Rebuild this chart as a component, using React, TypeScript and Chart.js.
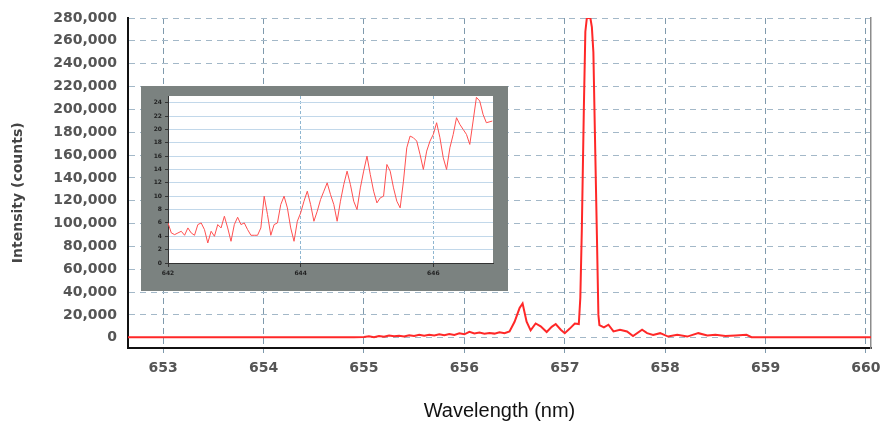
import React, { useEffect, useRef } from "react";
import { Chart, registerables } from "chart.js";

Chart.register(...registerables);

// ---------- Main spectrum ----------
const MAIN_WAVELENGTHS = [
  652.65, 652.8, 653.0, 653.5, 654.0, 654.5, 654.9, 655.0, 655.05, 655.1,
  655.15, 655.2, 655.25, 655.3, 655.35, 655.4, 655.45, 655.5, 655.55, 655.6,
  655.65, 655.7, 655.75, 655.8, 655.85, 655.9, 655.95, 656.0, 656.05, 656.1,
  656.15, 656.2, 656.25, 656.3, 656.35, 656.4, 656.45, 656.5, 656.55, 656.58,
  656.62, 656.66, 656.71, 656.76, 656.82, 656.87, 656.91, 656.96, 657.0, 657.05,
  657.1, 657.14, 657.155, 657.17, 657.19, 657.205, 657.22, 657.255, 657.27, 657.285,
  657.3, 657.32, 657.335, 657.345, 657.39, 657.435, 657.485, 657.55, 657.62, 657.68,
  657.77, 657.82, 657.88, 657.95, 658.03, 658.12, 658.22, 658.33, 658.42, 658.5,
  658.6, 658.7, 658.81, 658.86, 659.0, 659.5, 660.0, 660.05,
];
const MAIN_COUNTS = [
  500, 500, 500, 500, 500, 500, 500, 600, 1200, 500,
  1500, 800, 2000, 1200, 1800, 1000, 2200, 1500, 2500, 1800,
  2600, 2000, 3000, 2200, 3200, 2500, 3800, 3000, 5200, 3800,
  4500, 3500, 4200, 3600, 4800, 4000, 5500, 14000, 26000, 30000,
  14000, 6500, 12500, 10000, 5000, 9500, 12000, 7000, 4000, 8000,
  12500, 12000, 35000, 95000, 200000, 268000, 280000, 280000, 272000, 250000,
  180000, 90000, 20000, 11000, 9000, 11400, 5500, 7000, 5500, 1500,
  7000, 4000, 2500, 4000, 1000, 2500, 1000, 4000, 2000, 2500,
  1500, 2000, 2500, 500, 500, 500, 500, 500,
];
const MAIN_X_TICKS = [653, 654, 655, 656, 657, 658, 659, 660];
const MAIN_Y_TICKS = [
  0, 20000, 40000, 60000, 80000, 100000, 120000, 140000,
  160000, 180000, 200000, 220000, 240000, 260000, 280000,
];

// ---------- Inset spectrum ----------
const INSET_WAVELENGTHS = [
  642.0, 642.05, 642.1, 642.15, 642.2, 642.25, 642.3, 642.35, 642.4, 642.45,
  642.5, 642.55, 642.6, 642.65, 642.7, 642.75, 642.8, 642.85, 642.9, 642.95,
  643.0, 643.05, 643.1, 643.15, 643.2, 643.25, 643.3, 643.35, 643.4, 643.45,
  643.5, 643.55, 643.6, 643.65, 643.7, 643.75, 643.8, 643.85, 643.9, 643.95,
  644.0, 644.05, 644.1, 644.15, 644.2, 644.25, 644.3, 644.35, 644.4, 644.45,
  644.5, 644.55, 644.6, 644.65, 644.7, 644.75, 644.8, 644.85, 644.9, 644.95,
  645.0, 645.05, 645.1, 645.15, 645.2, 645.25, 645.3, 645.35, 645.4, 645.45,
  645.5, 645.55, 645.6, 645.65, 645.7, 645.75, 645.8, 645.85, 645.9, 645.95,
  646.0, 646.05, 646.1, 646.15, 646.2, 646.25, 646.3, 646.35, 646.4, 646.45,
  646.5, 646.55, 646.6, 646.65, 646.7, 646.75, 646.8, 646.89,
];
const INSET_VALUES = [
  6.0, 4.5, 4.25, 4.5, 4.75, 4.15, 5.25, 4.5, 4.15, 5.75,
  6.0, 5.0, 3.0, 4.75, 4.0, 5.75, 5.25, 7.0, 5.25, 3.25,
  5.75, 6.85, 5.75, 6.0, 5.0, 4.15, 4.15, 4.15, 5.25, 10.0,
  7.25, 4.15, 5.75, 6.0, 8.75, 10.0, 8.25, 5.25, 3.25, 6.25,
  7.5, 9.25, 10.75, 8.75, 6.25, 7.75, 9.5, 10.75, 12.0, 10.25,
  8.75, 6.25, 9.25, 11.75, 13.75, 11.75, 9.25, 8.0, 11.25, 13.75,
  16.0, 13.25, 10.75, 9.0, 9.75, 10.0, 14.75, 13.75, 11.25, 9.25,
  8.25, 12.25, 17.25, 19.0, 18.75, 18.25, 16.25, 14.0, 16.75, 18.25,
  19.25, 21.0, 18.75, 15.75, 14.0, 17.25, 19.25, 21.75, 20.75, 20.0,
  19.25, 17.75, 21.25, 24.8, 24.25, 22.25, 21.0, 21.25,
];
const INSET_X_TICKS = [642, 644, 646];
const INSET_Y_TICKS = [0, 2, 4, 6, 8, 10, 12, 14, 16, 18, 20, 22, 24];

const insetBackground = {
  id: "insetBackground",
  beforeDraw(chart: any) {
    const { ctx, chartArea, width, height } = chart;
    ctx.save();
    ctx.fillStyle = "#7b8280";
    ctx.fillRect(0, 0, width, height);
    ctx.fillStyle = "#ffffff";
    ctx.fillRect(chartArea.left, chartArea.top, chartArea.right - chartArea.left, chartArea.bottom - chartArea.top);
    ctx.restore();
  },
};

export default function App() {
  const mainRef = useRef<HTMLCanvasElement | null>(null);
  const insetRef = useRef<HTMLCanvasElement | null>(null);

  useEffect(() => {
    const tickFont = { family: "DejaVu Sans", size: 14, weight: "bold" as const };
    const main = new Chart(mainRef.current as HTMLCanvasElement, {
      type: "line",
      data: {
        datasets: [
          {
            data: MAIN_WAVELENGTHS.map((x, i) => ({ x, y: MAIN_COUNTS[i] })),
            borderColor: "rgb(255,40,40)",
            borderWidth: 2,
            pointRadius: 0,
            tension: 0,
          },
        ],
      },
      options: {
        animation: false,
        responsive: false,
        devicePixelRatio: 1,
        layout: { padding: { left: 0, right: 9, top: 18, bottom: 0 } },
        plugins: { legend: { display: false }, tooltip: { enabled: false } },
        scales: {
          x: {
            type: "linear",
            min: 652.65,
            max: 660.05,
            afterBuildTicks: (s: any) => {
              s.ticks = MAIN_X_TICKS.map((v) => ({ value: v }));
            },
            afterFit: (s: any) => {
              s.height = 73;
              s.paddingLeft = 0;
              s.paddingRight = 0;
            },
            grid: { color: "#7f9aad", lineWidth: 1, drawTicks: true, tickLength: 5, tickColor: "#7f9aad" },
            border: { display: true, color: "#111111", width: 2, dash: [6, 4] },
            ticks: {
              color: "#555555",
              font: tickFont,
              padding: 7,
              autoSkip: false,
              maxRotation: 0,
              callback: (v: any) => String(v),
            },
            title: {
              display: true,
              text: "Wavelength (nm)",
              color: "#111111",
              font: { family: "Liberation Sans", size: 20, lineHeight: 1 },
              padding: 0,
            },
          },
          y: {
            min: -9000,
            max: 280000,
            afterBuildTicks: (s: any) => {
              s.ticks = MAIN_Y_TICKS.map((v) => ({ value: v }));
            },
            afterFit: (s: any) => {
              s.width = 128;
              s.paddingTop = 0;
              s.paddingBottom = 0;
            },
            grid: { color: "#a3b8c8", lineWidth: 1, drawTicks: false },
            border: { display: true, color: "#111111", width: 2, dash: [6, 5] },
            ticks: {
              color: "#555555",
              font: tickFont,
              padding: 11,
              autoSkip: false,
              callback: (v: any) => Number(v).toLocaleString("en-US"),
            },
            title: {
              display: true,
              text: "Intensity (counts)\u00a0\u00a0\u00a0\u00a0",
              color: "#444444",
              font: { family: "DejaVu Sans", size: 14, weight: "bold", lineHeight: 1.2 },
              padding: { top: 10, bottom: 0 },
            },
          },
          y2: {
            position: "right",
            min: -9000,
            max: 280000,
            afterFit: (s: any) => {
              s.width = 0;
            },
            grid: { drawOnChartArea: false, drawTicks: false },
            ticks: { display: false },
            border: { display: true, color: "#8c8c8c", width: 1.5 },
          },
        },
      } as any,
    });

    const insetFont = { family: "DejaVu Sans", size: 6, weight: "bold" as const };
    const inset = new Chart(insetRef.current as HTMLCanvasElement, {
      type: "line",
      data: {
        datasets: [
          {
            data: INSET_WAVELENGTHS.map((x, i) => ({ x, y: INSET_VALUES[i] })),
            borderColor: "#ff5050",
            borderWidth: 1,
            pointRadius: 0,
            tension: 0,
          },
        ],
      },
      options: {
        animation: false,
        responsive: false,
        devicePixelRatio: 1,
        layout: { padding: { left: 0, right: 15, top: 10, bottom: 0 } },
        plugins: { legend: { display: false }, tooltip: { enabled: false } },
        scales: {
          x: {
            type: "linear",
            min: 642,
            max: 646.9,
            afterBuildTicks: (s: any) => {
              s.ticks = INSET_X_TICKS.map((v) => ({ value: v }));
            },
            afterFit: (s: any) => {
              s.height = 28;
              s.paddingLeft = 0;
              s.paddingRight = 0;
            },
            grid: { color: "#8fb6d0", lineWidth: 1, tickLength: 4, tickColor: "#333333" },
            border: { display: true, color: "#333333", width: 1, dash: [3, 2] },
            ticks: { color: "#222222", font: insetFont, padding: 3, autoSkip: false, maxRotation: 0, callback: (v: any) => String(v) },
          },
          y: {
            min: 0,
            max: 25,
            afterBuildTicks: (s: any) => {
              s.ticks = INSET_Y_TICKS.map((v) => ({ value: v }));
            },
            afterFit: (s: any) => {
              s.width = 27;
              s.paddingTop = 0;
              s.paddingBottom = 0;
            },
            grid: { color: "#c2d8ea", lineWidth: 1, drawTicks: true, tickLength: 3, tickColor: "#333333" },
            border: { display: true, color: "#333333", width: 1 },
            ticks: { color: "#222222", font: insetFont, padding: 3, autoSkip: false, callback: (v: any) => String(v) },
          },
        },
      } as any,
      plugins: [insetBackground],
    });

    return () => {
      main.destroy();
      inset.destroy();
    };
  }, []);

  return (
    <div style={{ position: "fixed", left: 0, top: 0, width: 880, height: 421, background: "#ffffff" }}>
      <canvas ref={mainRef} width={880} height={421} style={{ display: "block", position: "absolute", left: 0, top: 0 }} />
      <canvas ref={insetRef} width={367} height={205} style={{ display: "block", position: "absolute", left: 141, top: 86 }} />
    </div>
  );
}
